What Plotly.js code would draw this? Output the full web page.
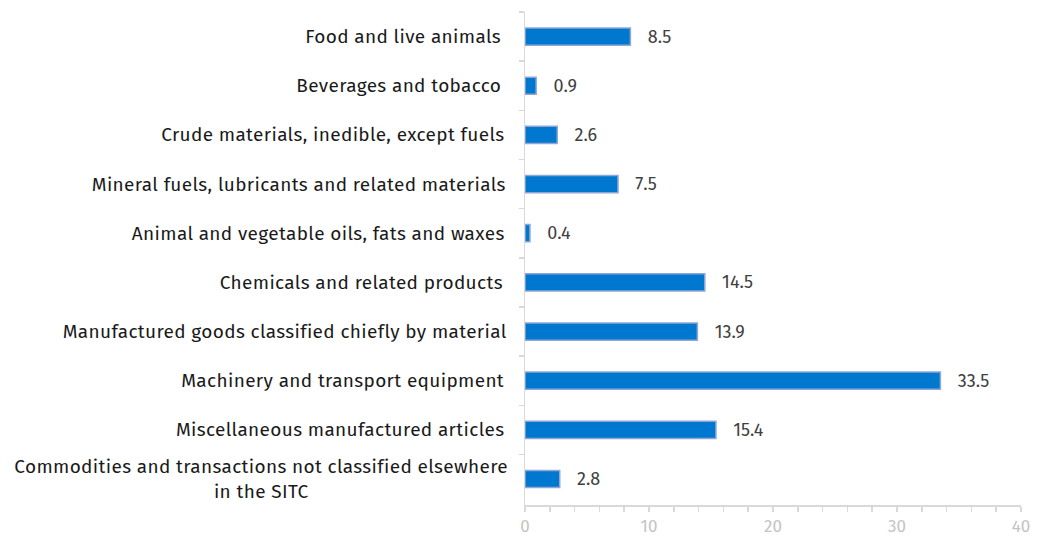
<!DOCTYPE html>
<html><head><meta charset="utf-8">
<script src="https://cdn.plot.ly/plotly-3.0.1.min.js"></script>
<style>html,body{margin:0;padding:0;background:#fff}#chart{width:1037px;height:537px}
#chart .annotation-text{letter-spacing:0.35px}</style>
</head><body><div id="chart"></div>
<script>
const categories = [
  "Food and live animals",
  "Beverages and tobacco",
  "Crude materials, inedible, except fuels",
  "Mineral fuels, lubricants and related materials",
  "Animal and vegetable oils, fats and waxes",
  "Chemicals and related products",
  "Manufactured goods classified chiefly by material",
  "Machinery and transport equipment",
  "Miscellaneous manufactured articles",
  "Commodities and transactions not classified elsewhere<br>in the SITC"
];
const values = [8.5, 0.9, 2.6, 7.5, 0.4, 14.5, 13.9, 33.5, 15.4, 2.8];
const xTicks = [0, 10, 20, 30, 40];

const FONT = "Fira Sans, Noto Sans, sans-serif";
const trace = {
  type: 'bar', orientation: 'h',
  x: values, y: categories,
  marker: {color: '#0078D0', line: {color: '#8FA6D6', width: 1.5}},
  text: values.map(v => v.toFixed(1)),
  texttemplate: '   %{text}',
  textposition: 'outside',
  constraintext: 'none',
  cliponaxis: false,
  textfont: {family: FONT, size: 18, color: '#404040'},
  hoverinfo: 'none'
};
const annotations = categories.map(c => ({
  xref: 'paper', yref: 'y', x: 0, y: c, xshift: -25,
  xanchor: 'right', yanchor: 'middle', align: 'center',
  text: c, showarrow: false,
  font: {family: FONT, size: 19, color: '#1a1a1a'}
}));
const layout = {
  width: 1037, height: 537,
  margin: {l: 525, r: 16, t: 12, b: 32},
  paper_bgcolor: '#fff', plot_bgcolor: '#fff',
  bargap: 0.65,
  showlegend: false,
  font: {family: FONT},
  xaxis: {
    range: [0, 40], tickvals: xTicks, showgrid: false, zeroline: false,
    showline: true, linecolor: '#D9D9D9', linewidth: 1.5,
    ticks: 'outside', ticklen: 5, tickcolor: '#D9D9D9', tickwidth: 1.5,
    minor: {dtick: 2, ticks: 'outside', ticklen: 5, tickcolor: '#D9D9D9', tickwidth: 1.5},
    tickfont: {family: FONT, size: 17, color: '#C4C4C4'}
  },
  yaxis: {
    type: 'category', autorange: 'reversed', showgrid: false, zeroline: false,
    showline: true, linecolor: '#D9D9D9', linewidth: 1.5,
    ticks: 'outside', tickson: 'boundaries', ticklen: 5, tickcolor: '#D9D9D9', tickwidth: 1.5,
    showticklabels: false
  },
  annotations: annotations
};
Plotly.newPlot('chart', [trace], layout, {staticPlot: true, displayModeBar: false});
</script></body></html>
